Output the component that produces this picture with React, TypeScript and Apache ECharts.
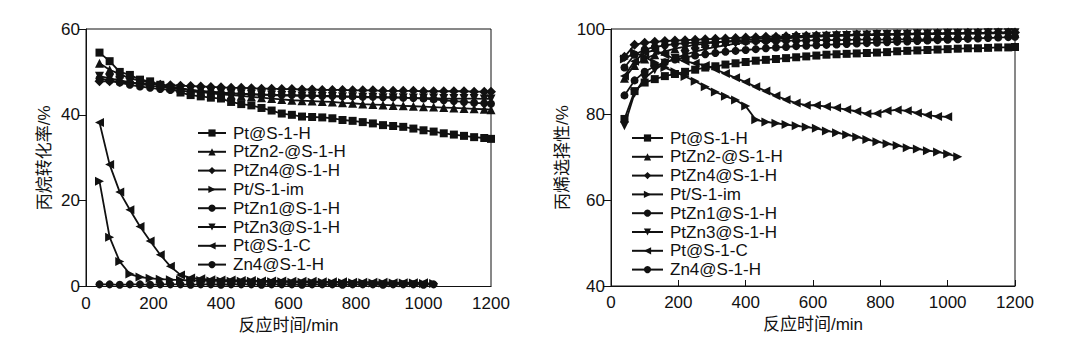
import React, { useEffect, useRef } from 'react';
import * as echarts from 'echarts';

// reaction time (min)
const T = [40, 70, 100, 130, 160, 190, 220, 250, 280, 310, 340, 370, 400, 430, 460, 490, 520, 550, 580, 610,
  640, 670, 700, 730, 760, 790, 820, 850, 880, 910, 940, 970, 1000, 1030, 1060, 1090, 1120, 1150, 1180, 1200];

const xTicks = [0, 200, 400, 600, 800, 1000, 1200];

// propane conversion /%
const convPtS1H = [54.5, 52.5, 50, 49.3, 48.2, 47.8, 47, 46.2, 45.2, 44.6, 44.3, 44, 43.8, 43, 42.5, 42.2, 41.6, 41, 40.3, 40,
  39.6, 39.5, 39.4, 39.2, 38.8, 38.6, 38.3, 38, 37.6, 37.4, 37.2, 36.8, 36.4, 36.1, 35.7, 35.4, 35.1, 34.8, 34.6, 34.4];
const convPtZn2 = [52, 50.5, 49.5, 48.5, 48, 47.5, 47, 46.6, 46.2, 45.8, 45.4, 45, 44.8, 44.6, 44.4, 44.2, 44, 43.8, 43.6, 43.4,
  43.3, 43.2, 43.1, 43, 42.8, 42.7, 42.5, 42.4, 42.3, 42.2, 42.1, 42, 41.9, 41.8, 41.7, 41.6, 41.5, 41.4, 41.3, 41.2];
const convPtZn4 = [47.8, 47.8, 47.7, 47.5, 47.3, 47.2, 47.0, 46.9, 46.8, 46.7, 46.6, 46.5, 46.4, 46.3, 46.3, 46.2, 46.1, 46.1, 46.0, 46.0,
  45.9, 45.9, 45.8, 45.8, 45.8, 45.7, 45.7, 45.7, 45.6, 45.6, 45.6, 45.6, 45.5, 45.5, 45.5, 45.5, 45.5, 45.4, 45.4, 45.4];
const convPtIm = [24.5, 11.5, 5.8, 2.9, 2.2, 1.9, 1.7, 1.6, 1.5, 1.4, 1.4, 1.3, 1.3, 1.2, 1.2, 1.2, 1.1, 1.1, 1.1, 1.0,
  1.0, 1.0, 1.0, 0.9, 0.9, 0.9, 0.9, 0.8, 0.8, 0.8, 0.8, 0.8, 0.7, 0.7];
const convPtZn1 = [48.5, 48, 47.5, 47, 46.6, 46.3, 46, 45.8, 45.6, 45.4, 45.3, 45.2, 45.1, 45, 44.9, 44.8, 44.7, 44.7, 44.6, 44.6,
  44.5, 44.5, 44.4, 44.4, 44.3, 44.3, 44.2, 44.2, 44.1, 44.1, 44.0, 43.9, 43.8, 43.6, 43.4, 43.2, 43.0, 42.8, 42.7, 42.6];
const convPtZn3 = [49, 48.5, 48, 47.6, 47.2, 46.8, 46.5, 46.2, 46, 45.8, 45.6, 45.4, 45.2, 45.0, 44.9, 44.8, 44.7, 44.6, 44.5, 44.5,
  44.4, 44.4, 44.3, 44.3, 44.2, 44.2, 44.1, 44.1, 44.0, 44.0, 44.0, 43.9, 43.9, 43.9, 43.8, 43.8, 43.8, 43.8, 43.7, 43.7];
const convPtC = [38.2, 28.4, 22, 17.9, 14, 10.6, 7.4, 4.7, 2.7, 2.0, 1.8, 1.6, 1.5, 1.5, 1.4, 1.4, 1.3, 1.3, 1.3, 1.2,
  1.2, 1.2, 1.1, 1.1, 1.1, 1.0, 1.0, 1.0, 1.0, 0.9, 0.9, 0.9, 0.9];
const convZn4 = [0.5, 0.5, 0.4, 0.5, 0.5, 0.4, 0.5, 0.5, 0.5, 0.4, 0.5, 0.5, 0.4, 0.5, 0.5, 0.5, 0.4, 0.5, 0.5, 0.5,
  0.4, 0.5, 0.5, 0.5, 0.4, 0.5, 0.5, 0.5, 0.4, 0.5, 0.5, 0.5, 0.4, 0.5];

// propylene selectivity /%
const selPtS1H = [79, 85.5, 87.5, 88.3, 89, 89.5, 90, 90.5, 91, 91.3, 91.7, 92, 92.3, 92.6, 92.8, 93, 93.2, 93.4, 93.6, 93.8,
  94, 94.1, 94.2, 94.3, 94.4, 94.5, 94.6, 94.8, 94.9, 95, 95.1, 95.2, 95.3, 95.4, 95.5, 95.5, 95.6, 95.7, 95.7, 95.8];
const selPtZn2 = [88.5, 91.5, 93, 94, 94.8, 95.4, 95.9, 96.3, 96.6, 96.9, 97.1, 97.3, 97.5, 97.7, 97.8, 97.9, 98, 98.1, 98.2, 98.3,
  98.4, 98.4, 98.5, 98.5, 98.6, 98.6, 98.7, 98.7, 98.7, 98.8, 98.8, 98.8, 98.9, 98.9, 98.9, 98.9, 99, 99, 99, 99];
const selPtZn4 = [93.5, 96.3, 96.8, 97, 97.2, 97.3, 97.4, 97.5, 97.6, 97.7, 97.8, 97.9, 98, 98.1, 98.2, 98.2, 98.3, 98.4, 98.4, 98.5,
  98.5, 98.6, 98.6, 98.7, 98.7, 98.8, 98.8, 98.8, 98.9, 98.9, 98.9, 99, 99, 99, 99.1, 99.1, 99.1, 99.2, 99.2, 99.2];
const selPtIm = [93, 94.5, 93.5, 92.2, 91, 90, 88.9, 87.8, 86.5, 85.3, 84.3, 83.4, 82, 78.8, 78.3, 78, 77.7, 77.4, 77.1, 76.8,
  76.2, 75.8, 75.3, 74.8, 74.2, 73.7, 73.2, 72.8, 72.3, 72, 71.6, 71.3, 70.8, 70.2];
const selPtZn1 = [84.5, 88, 90, 91.3, 92.2, 92.9, 93.4, 93.8, 94.1, 94.4, 94.7, 94.9, 95.1, 95.3, 95.5, 95.7, 95.8, 96, 96.1, 96.2,
  96.3, 96.4, 96.5, 96.6, 96.7, 96.8, 96.9, 97, 97.1, 97.2, 97.3, 97.4, 97.5, 97.6, 97.7, 97.8, 97.9, 98, 98.1, 98.2];
const selPtZn3 = [77.4, 85, 88.5, 90.5, 92, 93.2, 94, 94.7, 95.3, 95.8, 96.2, 96.6, 96.9, 97.2, 97.4, 97.6, 97.8, 98, 98.1, 98.2,
  98.3, 98.4, 98.5, 98.6, 98.6, 98.7, 98.7, 98.8, 98.8, 98.9, 98.9, 98.9, 99, 99, 99, 99, 99.1, 99.1, 99.1, 99.1];
const selPtC = [89, 92.5, 94.5, 95, 94, 93, 92.5, 92, 91.5, 90.6, 89.6, 88.6, 87.6, 86.5, 85.5, 84.4, 83.5, 82.7, 82.2, 82.2,
  81.9, 81.6, 81.2, 80.8, 80.2, 80.3, 80.9, 81.1, 80.9, 80.4, 79.9, 79.6, 79.5];
const selZn4 = [91, 94, 95.2, 95.8, 96.2, 96.5, 96.7, 96.8, 96.9, 97, 97, 97.1, 97.1, 97.2, 97.2, 97.2, 97.3, 97.3, 97.3, 97.4,
  97.4, 97.4, 97.4, 97.5, 97.5, 97.5, 97.5, 97.6, 97.6, 97.6, 97.6, 97.7, 97.7, 97.7];

const seriesNames = ['Pt@S-1-H', 'PtZn2-@S-1-H', 'PtZn4@S-1-H', 'Pt/S-1-im', 'PtZn1@S-1-H', 'PtZn3@S-1-H', 'Pt@S-1-C', 'Zn4@S-1-H'];
const convData = [convPtS1H, convPtZn2, convPtZn4, convPtIm, convPtZn1, convPtZn3, convPtC, convZn4];
const selData = [selPtS1H, selPtZn2, selPtZn4, selPtIm, selPtZn1, selPtZn3, selPtC, selZn4];

const symbols = ['rect', 'triangle', 'diamond', 'triangle', 'circle', 'triangle', 'triangle', 'circle'];
const rotations = [0, 0, 0, -90, 0, 180, 90, 0];
const sizes = [8, 9, 10, 9, 8, 9, 9, 8];

const FONT = '"Liberation Sans", Arial, "Noto Sans CJK SC", sans-serif';
const INK = '#111';

export default function App() {
  const ref = useRef<HTMLDivElement>(null);
  useEffect(() => {
    const chart = echarts.init(ref.current as HTMLDivElement, null, { renderer: 'svg' });
    const xAxisBase = (gridIndex: number, showTicks: boolean) => ({
      type: 'value', gridIndex, min: 0, max: 1200, interval: 200,
      name: '反应时间/min', nameLocation: 'middle', nameGap: 30,
      nameTextStyle: { fontSize: 17, color: INK, fontFamily: FONT },
      axisLine: { show: true, lineStyle: { color: INK, width: 1 } },
      axisTick: { show: showTicks, inside: true, length: 6, lineStyle: { color: INK } },
      axisLabel: { fontSize: 17, color: INK, fontFamily: FONT, margin: 8,
        formatter: (v: number) => (xTicks.includes(v) ? String(v) : '') },
      splitLine: { show: false },
    });
    const yAxisBase = (gridIndex: number, min: number, max: number, name: string, gap: number) => ({
      type: 'value', gridIndex, min, max, interval: 20,
      name, nameLocation: 'middle', nameGap: gap,
      nameTextStyle: { fontSize: 17, color: INK, fontFamily: FONT },
      axisLine: { show: true, lineStyle: { color: INK, width: 1 } },
      axisTick: { show: true, inside: false, length: 8, lineStyle: { color: INK } },
      axisLabel: { fontSize: 17, color: INK, fontFamily: FONT, margin: 6 },
      splitLine: { show: false },
    });
    const series: any[] = [];
    seriesNames.forEach((name, k) => {
      const common = {
        type: 'line', name, symbol: symbols[k], symbolRotate: rotations[k], symbolSize: sizes[k],
        showSymbol: true, lineStyle: { color: INK, width: 1.8 }, itemStyle: { color: INK },
        z: 10 - k,
      };
      series.push({ ...common, xAxisIndex: 0, yAxisIndex: 0,
        data: convData[k].map((v, i) => [T[i], v]) });
      series.push({ ...common, xAxisIndex: 1, yAxisIndex: 1,
        data: selData[k].map((v, i) => [T[i], v]) });
    });
    const legendBase = (left: number, top: number, itemWidth: number) => ({
      orient: 'vertical', left, top, itemWidth, itemHeight: 9, itemGap: 0.8, padding: 0,
      data: seriesNames, selectedMode: false,
      textStyle: { fontSize: 17, color: INK, fontFamily: FONT, lineHeight: 18, padding: [0, 0, 0, 2] },
    });
    chart.setOption({
      animation: false,
      backgroundColor: '#fff',
      grid: [
        { left: 86, top: 29, width: 405, height: 257.5, show: true, borderColor: INK, borderWidth: 1, backgroundColor: 'transparent' },
        { left: 611, top: 29, width: 404, height: 257, show: true, borderColor: INK, borderWidth: 1, backgroundColor: 'transparent' },
      ],
      xAxis: [xAxisBase(0, false), xAxisBase(1, true)],
      yAxis: [yAxisBase(0, 0, 60, '丙烷转化率/%', 33), yAxisBase(1, 40, 100, '丙烯选择性/%', 40)],
      legend: [legendBase(197, 124, 28), legendBase(631, 129, 31)],
      series,
    });
    return () => chart.dispose();
  }, []);
  return <div ref={ref} style={{ position: 'fixed', left: 0, top: 0, width: 1076, height: 342, background: '#fff' }} />;
}
